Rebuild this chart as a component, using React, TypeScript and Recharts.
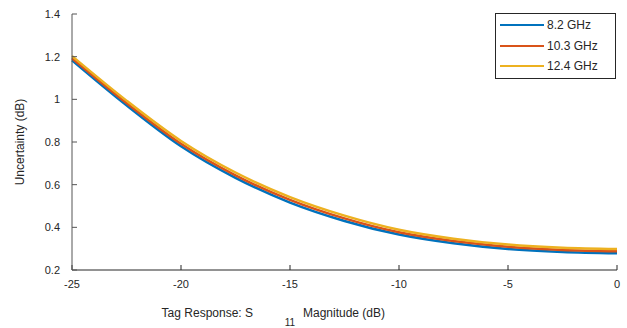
import React from 'react';
import { LineChart, Line, XAxis, YAxis } from 'recharts';

// S11 magnitude (dB) sample points
const s11 = [-25, -22.5, -20, -17.5, -15, -12.5, -10, -7.5, -5, -2.5, 0];
// uncertainty (dB)
const f82 = [1.183, 0.972, 0.78, 0.632, 0.516, 0.43, 0.366, 0.325, 0.298, 0.284, 0.278];
const f103 = [1.193, 0.983, 0.792, 0.644, 0.529, 0.442, 0.377, 0.336, 0.309, 0.294, 0.288];
const f124 = [1.203, 0.994, 0.805, 0.657, 0.542, 0.455, 0.389, 0.347, 0.319, 0.304, 0.298];

const xTicks = [-25, -20, -15, -10, -5, 0];
const yTicks = [0.2, 0.4, 0.6, 0.8, 1, 1.2, 1.4];

const series = [
  { key: 'f82', name: '8.2 GHz', color: '#0072BD' },
  { key: 'f103', name: '10.3 GHz', color: '#D95319' },
  { key: 'f124', name: '12.4 GHz', color: '#EDB120' },
];

const data = s11.map((x, i) => ({ x, f82: f82[i], f103: f103[i], f124: f124[i] }));

const font = '"Liberation Sans", Arial, Helvetica, sans-serif';
const axisColor = '#262626';
const tickStyle = { fontSize: 11, fill: axisColor, fontFamily: font };
const legendRows = [4, 25, 45];

const XLabel = (props: any) => {
  const { x, y } = props.viewBox;
  return (
    <g fontFamily={font} fill={axisColor}>
      <text x={x + 181} y={y + 47} fontSize={12} textAnchor="end">Tag Response: S</text>
      <text x={x + 218} y={y + 56} fontSize={10} textAnchor="middle">11</text>
      <text x={x + 231} y={y + 47} fontSize={12}>Magnitude (dB)</text>
    </g>
  );
};

export default function App() {
  return (
    <div style={{ position: 'absolute', left: 0, top: 0, width: 627, height: 328, background: '#fff' }}>
      <LineChart width={627} height={328} data={data} margin={{ top: 14, right: 10, bottom: 28, left: 12 }}>
        <XAxis
          dataKey="x"
          type="number"
          domain={[-25, 0]}
          ticks={xTicks}
          height={30}
          stroke={axisColor}
          tick={tickStyle}
          tickSize={-5}
          tickMargin={15}
          label={{ content: XLabel }}
        />
        <XAxis
          xAxisId="top"
          orientation="top"
          dataKey="x"
          type="number"
          domain={[-25, 0]}
          ticks={xTicks}
          height={0}
          stroke={axisColor}
          tick={false}
          tickSize={-5}
        />
        <YAxis
          type="number"
          domain={[0.2, 1.4]}
          ticks={yTicks}
          width={60}
          stroke="#555"
          tick={tickStyle}
          tickSize={-5}
          tickMargin={17}
          label={{
            value: 'Uncertainty (dB)',
            angle: -90,
            position: 'insideLeft',
            offset: 8,
            style: { textAnchor: 'middle', fontSize: 12, fill: axisColor, fontFamily: font },
          }}
        />
        <YAxis
          yAxisId="right"
          orientation="right"
          type="number"
          domain={[0.2, 1.4]}
          ticks={yTicks}
          width={0}
          stroke={axisColor}
          tick={false}
          tickSize={-5}
        />
        {series.map((s) => (
          <Line
            key={s.key}
            dataKey={s.key}
            name={s.name}
            type="monotone"
            stroke={s.color}
            strokeWidth={2.5}
            dot={false}
            isAnimationActive={false}
          />
        ))}
      </LineChart>
      <div
        style={{
          position: 'absolute',
          left: 495,
          top: 13,
          width: 121,
          height: 66,
          border: `1px solid ${axisColor}`,
          background: '#fff',
          boxSizing: 'border-box',
          fontFamily: font,
          fontSize: 12,
          color: axisColor,
        }}
      >
        {series.map((s, i) => (
          <div
            key={s.key}
            style={{ position: 'absolute', left: 4, top: legendRows[i], height: 14, display: 'flex', alignItems: 'center' }}
          >
            <span style={{ display: 'inline-block', width: 44, height: 2, background: s.color, marginRight: 3 }} />
            <span>{s.name}</span>
          </div>
        ))}
      </div>
    </div>
  );
}
